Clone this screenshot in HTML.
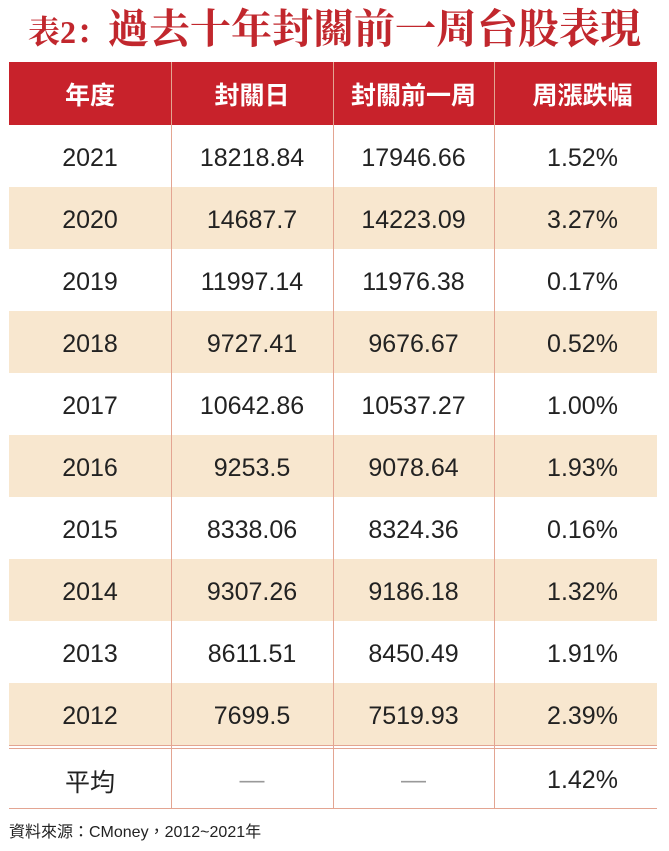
<!DOCTYPE html>
<html><head><meta charset="utf-8"><style>
body{margin:0;width:669px;height:851px;background:#fff;position:relative;overflow:hidden;font-family:"Liberation Sans","Noto Sans CJK TC",sans-serif}
#title{position:absolute;left:0;top:3px;width:669px;text-align:center;color:#c1272d;font-family:"Liberation Serif","Noto Serif CJK SC",serif;font-weight:bold;font-size:41px;line-height:52px;white-space:nowrap}
#title .pre{font-size:32px}
.cell{position:absolute;text-align:center;color:#222;font-size:25px;display:flex;align-items:center;justify-content:center;padding-top:4px;box-sizing:border-box}
.hdr{color:#fff;font-weight:bold;font-size:25px;font-family:"Noto Sans CJK TC",sans-serif;padding-top:0}
.vline{position:absolute;width:1px;background:#e3a592}
.hline{position:absolute;height:1px;background:#e3a592;left:9px;width:648px}
#src{position:absolute;left:9px;top:818px;font-size:16px;color:#222;font-family:"Liberation Sans","Noto Sans CJK TC",sans-serif}
</style></head><body>
<div id="title"><span class="pre">表2：</span>過去十年封關前一周台股表現</div>
<div style="position:absolute;left:9px;top:62px;width:648px;height:63px;background:#c8222b"></div>
<div id="tbl"></div>
<div id="src">資料來源：CMoney，2012~2021年</div>
<script>
const years=["2021","2020","2019","2018","2017","2016","2015","2014","2013","2012"];
const closeDay=["18218.84","14687.7","11997.14","9727.41","10642.86","9253.5","8338.06","9307.26","8611.51","7699.5"];
const weekBefore=["17946.66","14223.09","11976.38","9676.67","10537.27","9078.64","8324.36","9186.18","8450.49","7519.93"];
const change=["1.52%","3.27%","0.17%","0.52%","1.00%","1.93%","0.16%","1.32%","1.91%","2.39%"];
const headers=["年度","封關日","封關前一周","周漲跌幅"];
const avgRow=["平均","—","—","1.42%"];
const colX=[9,171,333,494,657];
const t=document.getElementById('tbl');
function cell(txt,c,top,h,cls){
  const d=document.createElement('div');
  d.className='cell '+(cls||'');
  d.style.left=colX[c]+'px';d.style.width=(colX[c+1]-colX[c])+'px';
  d.style.top=top+'px';d.style.height=h+'px';
  if(c===3)d.style.paddingLeft='14px';
  d.textContent=txt;
  
  
  t.appendChild(d);
  return d;
}
headers.forEach((h,i)=>cell(h,i,62,63,'hdr'));
const rowH=62;
years.forEach((y,r)=>{
  const top=125+r*rowH;
  if(r%2===1){
    const bg=document.createElement('div');
    bg.style.cssText='position:absolute;left:9px;width:648px;background:#f8e7cf;top:'+top+'px;height:'+rowH+'px';
    
    
    t.appendChild(bg);
  }
  [y,closeDay[r],weekBefore[r],change[r]].forEach((v,c)=>cell(v,c,top,rowH));
});
const avgTop=125+years.length*rowH+4;
avgRow.forEach((v,c)=>{const d=cell(v,c,avgTop,59); if(v==='—')d.style.color='#999';});
[171,333,494].forEach(x=>{
  const l=document.createElement('div');l.className='vline';
  l.style.left=x+'px';l.style.top='62px';l.style.height=(avgTop+59-62)+'px';
  
  
  t.appendChild(l);
});
const end=125+years.length*rowH;
[end,end+3,avgTop+59].forEach(y=>{
  const l=document.createElement('div');l.className='hline';l.style.top=y+'px';
  
  
  t.appendChild(l);
});
</script>
</body></html>
